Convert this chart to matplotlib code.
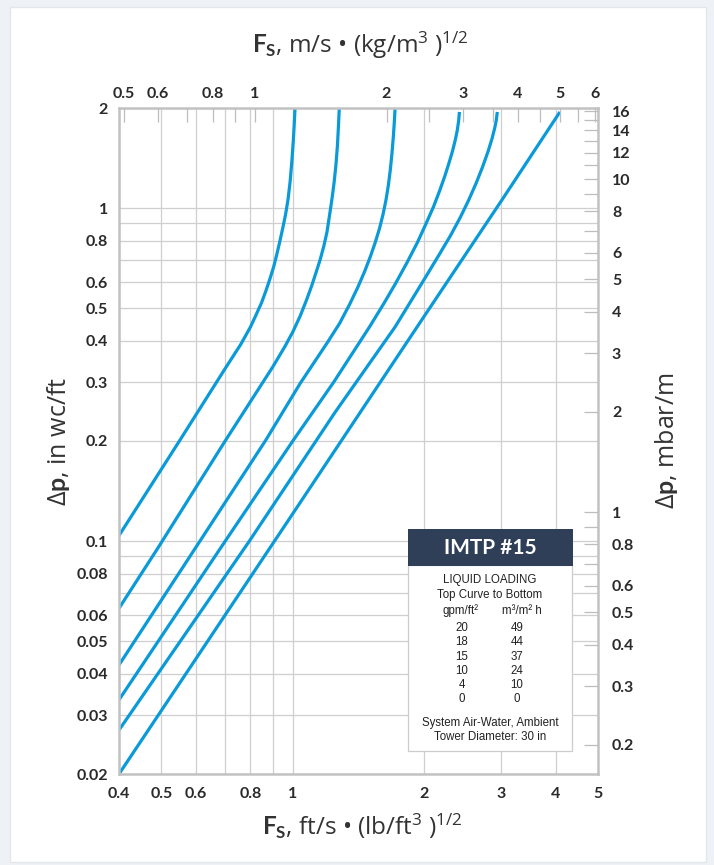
import numpy as np
import matplotlib
matplotlib.use('Agg')
import matplotlib.pyplot as plt
from matplotlib import font_manager
from matplotlib.patches import Rectangle
from matplotlib.ticker import FixedLocator, FixedFormatter, NullFormatter

plt.rcParams['font.family'] = ['Lato', 'DejaVu Sans']
plt.rcParams['mathtext.fontset'] = 'custom'
plt.rcParams['mathtext.rm'] = 'Open Sans'
plt.rcParams['mathtext.it'] = 'Open Sans:italic'
plt.rcParams['mathtext.bf'] = 'Lato:bold'

# unit conversions for the secondary scales
FS_SI = 0.3048 * np.sqrt(16.0185)   # ft/s (lb/ft3)^.5 -> m/s (kg/m3)^.5
DP_SI = 8.1722                      # in wc/ft -> mbar/m

# curves: Fs [ft/s (lb/ft3)^1/2], dp [in wc/ft]
fs_20 = [0.40, 0.55, 0.70, 0.76, 0.80, 0.825, 0.848, 0.868, 0.887, 0.905, 0.92, 0.935,
         0.95, 0.963, 0.975, 0.986, 0.995, 1.003, 1.008, 1.012]
dp_20 = [0.104, 0.20, 0.33, 0.39, 0.44, 0.48, 0.52, 0.565, 0.615, 0.67, 0.73, 0.80,
         0.88, 0.96, 1.06, 1.20, 1.38, 1.60, 1.80, 2.00]
fs_18 = [0.40, 0.49, 0.70, 0.90, 0.96, 1.00, 1.04, 1.075, 1.105, 1.13, 1.155, 1.178,
         1.198, 1.215, 1.23, 1.243, 1.255, 1.265, 1.272, 1.278]
dp_18 = [0.0629, 0.095, 0.20, 0.334, 0.385, 0.425, 0.475, 0.53, 0.585, 0.64, 0.70, 0.77,
         0.85, 0.96, 1.07, 1.19, 1.34, 1.53, 1.75, 2.00]
fs_15 = [0.40, 0.594, 0.867, 1.04, 1.20, 1.28, 1.35, 1.41, 1.46, 1.505, 1.545, 1.58,
         1.61, 1.635, 1.655, 1.672, 1.687, 1.70, 1.709, 1.715]
dp_15 = [0.0425, 0.094, 0.201, 0.298, 0.395, 0.451, 0.515, 0.58, 0.645, 0.715, 0.79, 0.87,
         0.96, 1.06, 1.17, 1.30, 1.46, 1.65, 1.83, 2.00]
fs_10 = [0.40, 0.70, 1.00, 1.24, 1.50, 1.62, 1.72, 1.83, 1.93, 2.02, 2.10, 2.17, 2.23,
         2.28, 2.32, 2.355, 2.38, 2.398, 2.408]
dp_10 = [0.0334, 0.10, 0.20, 0.30, 0.441, 0.52, 0.595, 0.69, 0.79, 0.90, 1.01, 1.13, 1.25,
         1.37, 1.48, 1.60, 1.71, 1.83, 1.946]
fs_4 = [0.40, 0.795, 1.25, 1.715, 1.99, 2.17, 2.30, 2.42, 2.53, 2.63, 2.72, 2.80, 2.86,
        2.90, 2.925, 2.94]
dp_4 = [0.0271, 0.10, 0.244, 0.44, 0.605, 0.73, 0.83, 0.94, 1.06, 1.19, 1.33, 1.48, 1.62,
        1.74, 1.84, 1.946]
fs_0 = [0.40, 1.0, 2.0, 3.0, 4.09]
dp_0 = [0.02, 0.121, 0.474, 1.05, 1.946]

curves = [(fs_20, dp_20), (fs_18, dp_18), (fs_15, dp_15),
          (fs_10, dp_10), (fs_4, dp_4), (fs_0, dp_0)]

# legend table
gpm = ['20', '18', '15', '10', '4', '0']
m3h = ['49', '44', '37', '24', '10', '0']

# axis ticks
x_ticks = [0.4, 0.5, 0.6, 0.8, 1, 2, 3, 4, 5]
x_labels = ['0.4', '0.5', '0.6', '0.8', '1', '2', '3', '4', '5']
x_grid = [0.7, 0.9]
y_ticks = [0.02, 0.03, 0.04, 0.05, 0.06, 0.08, 0.1, 0.2, 0.3, 0.4, 0.5, 0.6, 0.8, 1, 2]
y_labels = ['0.02', '0.03', '0.04', '0.05', '0.06', '0.08', '0.1', '0.2', '0.3',
            '0.4', '0.5', '0.6', '0.8', '1', '2']
y_grid = [0.07, 0.09, 0.7, 0.9]
top_ticks = [0.5, 0.6, 0.8, 1, 2, 3, 4, 5, 6]
top_labels = ['0.5', '0.6', '0.8', '1', '2', '3', '4', '5', '6']
top_minor = [0.7, 0.9, 2.5, 3.5, 4.5, 5.5]
right_ticks = [0.2, 0.3, 0.4, 0.5, 0.6, 0.8, 1, 2, 3, 4, 5, 6, 8, 10, 12, 14, 16]
right_labels = ['0.2', '0.3', '0.4', '0.5', '0.6', '0.8', '1', '2', '3', '4', '5',
                '6', '8', '10', '12', '14', '16']
right_minor = [0.7, 0.9, 7, 9, 11, 13, 15]

W, H = 714, 865
BLUE = '#0a9ad8'
GRID = '#cfcfcf'
SPINE = '#c2c2c2'
TXT = '#2a2a2a'


def fx(px):
    return px / W


def fy(py):
    return 1 - py / H


fig = plt.figure(figsize=(W / 100, H / 100), dpi=100)
fig.patch.set_facecolor('#eef1f5')
fig.add_artist(Rectangle((fx(10), fy(862)), (706 - 10) / W, (862 - 7) / H,
                         transform=fig.transFigure, facecolor='white',
                         edgecolor='#e3e6eb', lw=1, zorder=-1))

ax = fig.add_axes([fx(119), fy(774), (598 - 119) / W, (774 - 108) / H])
ax.set_xscale('log')
ax.set_yscale('log')

for fs, dp in curves:
    ax.plot(fs, dp, color=BLUE, lw=2.3, solid_capstyle='butt', solid_joinstyle='round')

ax.set_xlim(0.4, 5)
ax.set_ylim(0.02, 2)
ax.xaxis.set_major_locator(FixedLocator(x_ticks))
ax.xaxis.set_major_formatter(FixedFormatter(x_labels))
ax.xaxis.set_minor_locator(FixedLocator(x_grid))
ax.xaxis.set_minor_formatter(NullFormatter())
ax.yaxis.set_major_locator(FixedLocator(y_ticks))
ax.yaxis.set_major_formatter(FixedFormatter(y_labels))
ax.yaxis.set_minor_locator(FixedLocator(y_grid))
ax.yaxis.set_minor_formatter(NullFormatter())
ax.tick_params(which='both', length=0, labelsize=11.5, labelcolor=TXT)
ax.tick_params(axis='x', pad=9)
ax.tick_params(axis='y', pad=8)
for lab in ax.get_xticklabels() + ax.get_yticklabels():
    lab.set_fontweight('bold')
ax.grid(which='both', color=GRID, lw=0.9)
ax.set_axisbelow(True)
for sp in ax.spines.values():
    sp.set_color(SPINE)
    sp.set_linewidth(1.8)

# top scale, m/s (kg/m3)^1/2
ax_top = ax.twiny()
ax_top.set_xscale('log')
ax_top.set_xlim(0.4 * FS_SI, 5 * FS_SI)
ax_top.xaxis.set_major_locator(FixedLocator(top_ticks))
ax_top.xaxis.set_major_formatter(FixedFormatter(top_labels))
ax_top.xaxis.set_minor_locator(FixedLocator(top_minor))
ax_top.xaxis.set_minor_formatter(NullFormatter())
ax_top.tick_params(which='both', direction='in', length=10, width=0.9, color='#bdbdbd',
                   labelsize=11.5, labelcolor=TXT, pad=5)
for lab in ax_top.get_xticklabels():
    lab.set_fontweight('bold')

# right scale, mbar/m
ax_right = ax.twinx()
ax_right.set_yscale('log')
ax_right.set_ylim(0.02 * DP_SI, 2 * DP_SI)
ax_right.yaxis.set_major_locator(FixedLocator(right_ticks))
ax_right.yaxis.set_major_formatter(FixedFormatter(right_labels))
ax_right.yaxis.set_minor_locator(FixedLocator(right_minor))
ax_right.yaxis.set_minor_formatter(NullFormatter())
ax_right.tick_params(which='both', direction='in', length=10, width=0.9, color='#bdbdbd',
                     labelsize=11.5, labelcolor=TXT, pad=10)
for lab in ax_right.get_yticklabels():
    lab.set_fontweight('bold')

for a in (ax_top, ax_right):
    for sp in a.spines.values():
        sp.set_visible(False)

# axis titles
lab_kw = dict(color='#333333', family=['Open Sans', 'DejaVu Sans'])
fig.text(fx(360), fy(45), r'$\mathbf{F_S}$, m/s • (kg/m$^3$ )$^{1/2}$', fontsize=17.5,
         ha='center', va='center', **lab_kw)
fig.text(fx(362), fy(826), r'$\mathbf{F_S}$, ft/s • (lb/ft$^3$ )$^{1/2}$', fontsize=17.5,
         ha='center', va='center', **lab_kw)
fig.text(fx(58), fy(441), r'$\Delta\mathbf{p}$, in wc/ft', fontsize=18, rotation=90,
         ha='center', va='center', **lab_kw)
fig.text(fx(666), fy(441), r'$\Delta\mathbf{p}$, mbar/m', fontsize=18, rotation=90,
         ha='center', va='center', **lab_kw)

# legend box
avail = {f.name for f in font_manager.fontManager.ttflist}
if 'Liberation Sans Narrow' in avail:
    nfam, nsize = 'Liberation Sans Narrow', 9.5
else:
    nfam, nsize = 'Liberation Sans', 8.3

fig.add_artist(Rectangle((fx(408), fy(751)), (572 - 408) / W, (751 - 565) / H,
                         transform=fig.transFigure, facecolor='white',
                         edgecolor='#cccccc', lw=0.9, zorder=5))
fig.add_artist(Rectangle((fx(408), fy(566)), (573 - 408) / W, (566 - 529) / H,
                         transform=fig.transFigure, facecolor='#2f3f57',
                         edgecolor='none', zorder=6))
fig.text(fx(490), fy(548), 'IMTP #15', color='white', fontsize=15, fontweight='bold',
         ha='center', va='center', zorder=7)

nkw = dict(family=[nfam, 'DejaVu Sans'], fontsize=nsize, color='#222222',
           ha='center', va='center', zorder=7)
fig.text(fx(490), fy(580), 'LIQUID LOADING', **nkw)
fig.text(fx(490), fy(595), 'Top Curve to Bottom', **nkw)
fig.text(fx(460), fy(611), 'gpm/ft²', **nkw)
fig.text(fx(522), fy(611), 'm³/m² h', **nkw)
for i, (g, m) in enumerate(zip(gpm, m3h)):
    yy = 628 + i * 14.3
    fig.text(fx(462), fy(yy), g, **nkw)
    fig.text(fx(517), fy(yy), m, **nkw)
fig.text(fx(490), fy(723), 'System Air-Water, Ambient', **nkw)
fig.text(fx(490), fy(737.5), 'Tower Diameter: 30 in', **nkw)

fig.savefig('out.png', dpi=100, facecolor=fig.get_facecolor())
